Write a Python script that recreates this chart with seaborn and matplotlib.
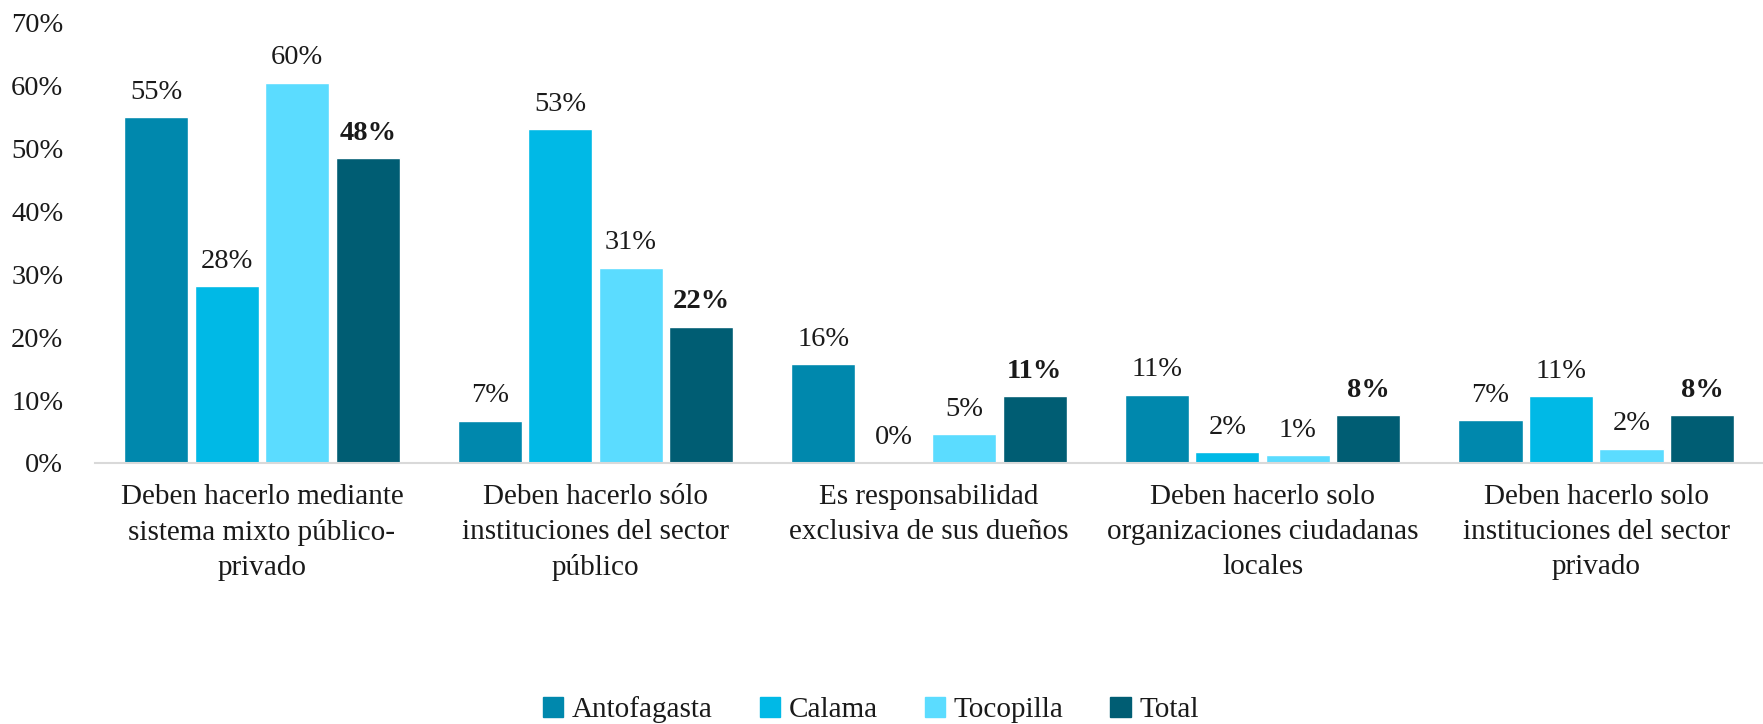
import matplotlib
matplotlib.use("Agg")
import matplotlib.pyplot as plt
import matplotlib.ticker as mticker
import seaborn as sns
import pandas as pd

categories = [
    "Deben hacerlo mediante\nsistema mixto público-\nprivado",
    "Deben hacerlo sólo\ninstituciones del sector\npúblico",
    "Es responsabilidad\nexclusiva de sus dueños",
    "Deben hacerlo solo\norganizaciones ciudadanas\nlocales",
    "Deben hacerlo solo\ninstituciones del sector\nprivado",
]
antofagasta = [54.9, 6.7, 15.7, 10.8, 6.8]
calama = [28.1, 53.0, 0.0, 1.7, 10.6]
tocopilla = [60.4, 31.0, 4.6, 1.2, 2.3]
total = [48.4, 21.6, 10.6, 7.6, 7.6]
series_names = ["Antofagasta", "Calama", "Tocopilla", "Total"]
palette = ["#0088AD", "#00B9E6", "#5BDCFF", "#005D73"]
yticks = [0, 10, 20, 30, 40, 50, 60, 70]

rows = []
for name, vals in zip(series_names, [antofagasta, calama, tocopilla, total]):
    for cat, v in zip(categories, vals):
        rows.append({"cat": cat, "serie": name, "valor": v})
df = pd.DataFrame(rows)

sns.set_theme(style="white")
plt.rcParams["font.family"] = ["Liberation Serif", "DejaVu Serif"]

fig = plt.figure(figsize=(17.63, 7.24), dpi=100)
ax = fig.add_axes([0.054, 0.3605, 0.946, 0.609])

sns.barplot(data=df, x="cat", y="valor", hue="serie", hue_order=series_names,
            palette=palette, width=0.845, gap=0.09, saturation=1, ax=ax,
            legend=True)

for cont, name in zip(ax.containers, series_names):
    labels = [f"{round(v)}%" for v in cont.datavalues]
    ax.bar_label(cont, labels=labels, padding=9, fontsize=20.5, color="#1a1a1a",
                 fontweight="bold" if name == "Total" else "normal")

ax.set_ylim(0, 70)
ax.set_yticks(yticks)
ax.yaxis.set_major_formatter(mticker.FuncFormatter(lambda v, p: f"{v:.0f}%"))
ax.set_xlim(-0.5, len(categories) - 0.5)
ax.set_xlabel("")
ax.set_ylabel("")
ax.tick_params(axis="y", length=0, pad=23, labelsize=20.5, labelcolor="#1a1a1a")
ax.tick_params(axis="x", length=0, pad=15, labelsize=21, labelcolor="#1a1a1a")
for lbl in ax.get_xticklabels():
    lbl.set_linespacing(1.45)
for s in ["left", "right", "top"]:
    ax.spines[s].set_visible(False)
ax.spines["bottom"].set_color("#D9D9D9")
ax.spines["bottom"].set_linewidth(1.5)

ax.get_legend().remove()
handles = [plt.Rectangle((0, 0), 1, 1, color=c) for c in palette]
fig.legend(handles, series_names, loc="center", bbox_to_anchor=(0.494, 0.02),
           ncol=4, frameon=False, fontsize=21, handlelength=0.7, handleheight=0.7,
           handletextpad=0.3, columnspacing=1.6, labelcolor="#1a1a1a")

fig.savefig("out.png", dpi=100)
